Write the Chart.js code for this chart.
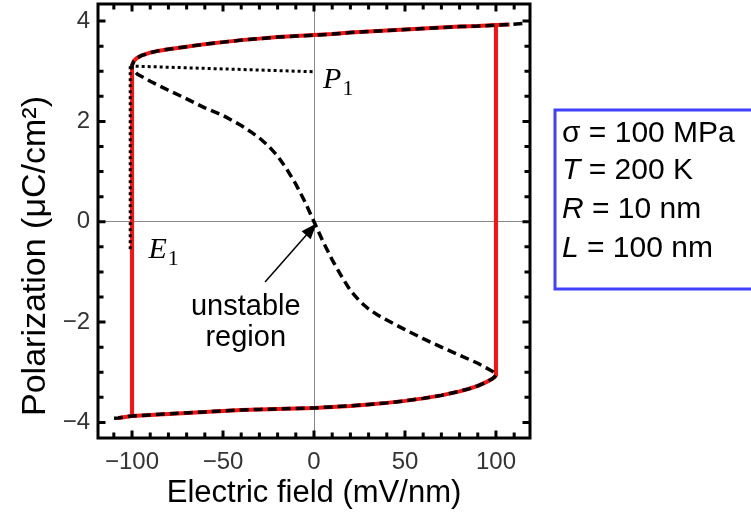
<!DOCTYPE html>
<html>
<head>
<meta charset="utf-8">
<script src="https://cdn.jsdelivr.net/npm/chart.js@4.4.0/dist/chart.umd.min.js"></script>
<style>
  html, body { margin: 0; padding: 0; background: #fff; overflow: hidden; }
  #wrap { width: 751px; height: 513px; }
</style>
</head>
<body>
<div id="wrap"><canvas id="loop" width="751" height="513"></canvas></div>
<script>
// P-E loop, field in mV/nm, polarization in uC/cm^2
var upperE = [-100, -99, -97.5, -95, -90, -85, -80, -70, -60, -50, -40, -30, -20, -10, 0, 10, 20, 30, 40, 50, 60, 70, 80, 90, 100, 107.5, 114.5];
var upperP = [3.12, 3.2, 3.26, 3.31, 3.37, 3.41, 3.44, 3.49, 3.54, 3.58, 3.62, 3.65, 3.68, 3.70, 3.72, 3.74, 3.77, 3.79, 3.81, 3.83, 3.85, 3.87, 3.89, 3.90, 3.92, 3.93, 3.95];

var lowerE = [-110.5, -107.5, -100, -90, -80, -70, -60, -50, -40, -30, -20, -10, 0, 10, 20, 30, 40, 50, 60, 70, 80, 85, 90, 95, 97.5, 99, 100];
var lowerP = [-3.92, -3.91, -3.87, -3.85, -3.83, -3.81, -3.79, -3.77, -3.75, -3.74, -3.73, -3.72, -3.71, -3.69, -3.67, -3.64, -3.61, -3.57, -3.52, -3.46, -3.38, -3.33, -3.27, -3.19, -3.14, -3.1, -3.06];

// middle (unstable) branch
var unstableE = [-100, -97, -90, -80, -70, -60, -50, -45, -40, -35, -30, -25, -20, -15, -10, -5, 0, 5, 10, 15, 20, 25, 30, 35, 40, 50, 60, 70, 80, 90, 97, 100];
var unstableP = [3.05, 2.94, 2.8, 2.62, 2.45, 2.27, 2.12, 2.02, 1.92, 1.8, 1.67, 1.51, 1.31, 1.05, 0.75, 0.4, 0, -0.4, -0.76, -1.08, -1.37, -1.58, -1.74, -1.86, -1.96, -2.15, -2.33, -2.5, -2.66, -2.82, -2.96, -3.02];

// dotted guides to P1 and E1
var p1E = [-98, 0], p1P = [3.1, 2.99];
var e1E = [-101, -101], e1P = [3.1, -0.55];

var xTicks = [-100, -50, 0, 50, 100];
var yTicks = [-4, -2, 0, 2, 4];

function pts(E, P) {
  return E.map(function (e, i) { return { x: e, y: P[i] }; });
}

var up = pts(upperE, upperP);
var low = pts(lowerE, lowerP);
var mid = pts(unstableE, unstableP);

// red loop: switching at -100 and +100
var redLeft = [{ x: lowerE[2], y: lowerP[2] }].concat(up.slice(0, up.length - 1));
var redRight = [{ x: upperE[24], y: upperP[24] }].concat(low.slice(1).reverse());
// black dashed S-curve through all three branches
var sCurve = up.slice().reverse().concat(mid, low.slice().reverse());

var RED = '#ff1010';
var SANS = '"Liberation Sans", Arial, sans-serif';
var SERIF = '"Liberation Serif", "Times New Roman", serif';

function minus(v) { return v < 0 ? '\u2212' + Math.abs(v) : String(v); }

var decor = {
  id: 'decor',
  afterDatasetsDraw: function (chart) {
    var ctx = chart.ctx, a = chart.chartArea;
    var xs = chart.scales.x, ys = chart.scales.y;
    ctx.save();

    // frame with inward ticks
    ctx.strokeStyle = '#000';
    ctx.lineWidth = 3;
    ctx.strokeRect(a.left, a.top, a.right - a.left, a.bottom - a.top);
    ctx.beginPath();
    for (var v = -110; v <= 110; v += 10) {
      var px = xs.getPixelForValue(v), len = v % 50 === 0 ? 7.5 : 5.5;
      ctx.moveTo(px, a.bottom); ctx.lineTo(px, a.bottom - len);
      ctx.moveTo(px, a.top); ctx.lineTo(px, a.top + len);
    }
    for (var w = -4; w <= 4; w += 0.5) {
      var py = ys.getPixelForValue(w), ln = w % 2 === 0 ? 7.5 : 5.5;
      ctx.moveTo(a.left, py); ctx.lineTo(a.left + ln, py);
      ctx.moveTo(a.right, py); ctx.lineTo(a.right - ln, py);
    }
    ctx.stroke();

    // arrow to the unstable point
    var tx = xs.getPixelForValue(-26.9), ty = ys.getPixelForValue(-1.2);
    var hx = xs.getPixelForValue(1.5), hy = ys.getPixelForValue(-0.03);
    var ang = Math.atan2(hy - ty, hx - tx);
    ctx.lineWidth = 1.5;
    ctx.beginPath();
    ctx.moveTo(tx, ty);
    ctx.lineTo(hx - 12 * Math.cos(ang), hy - 12 * Math.sin(ang));
    ctx.stroke();
    ctx.fillStyle = '#000';
    ctx.beginPath();
    ctx.moveTo(hx, hy);
    ctx.lineTo(hx - 16 * Math.cos(ang) + 6 * Math.sin(ang), hy - 16 * Math.sin(ang) - 6 * Math.cos(ang));
    ctx.lineTo(hx - 16 * Math.cos(ang) - 6 * Math.sin(ang), hy - 16 * Math.sin(ang) + 6 * Math.cos(ang));
    ctx.closePath();
    ctx.fill();

    // annotations
    ctx.fillStyle = '#000';
    ctx.textBaseline = 'alphabetic';
    ctx.textAlign = 'center';
    ctx.font = '29px ' + SANS;
    var ux = xs.getPixelForValue(-37.5);
    ctx.fillText('unstable', ux, ys.getPixelForValue(-1.86));
    ctx.fillText('region', ux, ys.getPixelForValue(-2.47));

    ctx.textAlign = 'left';
    function sym(letter, sub, x, y) {
      ctx.font = 'italic 30px ' + SERIF;
      ctx.fillText(letter, x, y);
      var wd = ctx.measureText(letter).width;
      ctx.font = '22px ' + SERIF;
      ctx.fillText(sub, x + wd + 1, y + 7);
    }
    sym('P', '1', xs.getPixelForValue(5), ys.getPixelForValue(2.66));
    sym('E', '1', xs.getPixelForValue(-91), ys.getPixelForValue(-0.72));

    // axis titles
    ctx.font = '31px ' + SANS;
    ctx.textAlign = 'center';
    ctx.fillText('Electric field (mV/nm)', (a.left + a.right) / 2, 502);
    ctx.save();
    ctx.translate(45, 256);
    ctx.rotate(-Math.PI / 2);
    ctx.font = '34px ' + SANS;
    ctx.fillText('Polarization (\u03bcC/cm\u00b2)', 0, 0);
    ctx.restore();

    // parameter box, open towards the right edge
    ctx.strokeStyle = '#4040ff';
    ctx.lineWidth = 3;
    ctx.beginPath();
    ctx.moveTo(chart.width + 10, 110);
    ctx.lineTo(555, 110);
    ctx.lineTo(555, 289);
    ctx.lineTo(chart.width + 10, 289);
    ctx.stroke();
    ctx.textAlign = 'left';
    var lines = [
      ['', '\u03c3 = 100 MPa', 142],
      ['T', ' = 200 K', 179],
      ['R', ' = 10 nm', 218],
      ['L', ' = 100 nm', 257]
    ];
    lines.forEach(function (l) {
      var x = 562;
      if (l[0]) {
        ctx.font = 'italic 30px ' + SANS;
        ctx.fillText(l[0], x, l[2]);
        x += ctx.measureText(l[0]).width;
      }
      ctx.font = '30px ' + SANS;
      ctx.fillText(l[1], x, l[2]);
    });
    ctx.restore();
  }
};

new Chart(document.getElementById('loop'), {
  type: 'scatter',
  data: {
    datasets: [
      { data: sCurve, showLine: true, borderColor: '#000', borderWidth: 3.5, borderDash: [9, 5], pointRadius: 0, order: 1 },
      { data: pts(p1E, p1P), showLine: true, borderColor: '#000', borderWidth: 3, borderDash: [3, 3], pointRadius: 0, order: 2 },
      { data: pts(e1E, e1P), showLine: true, borderColor: '#000', borderWidth: 3, borderDash: [3, 3], pointRadius: 0, order: 2 },
      { data: redLeft, showLine: true, borderColor: RED, borderWidth: 4, pointRadius: 0, order: 3 },
      { data: redRight, showLine: true, borderColor: RED, borderWidth: 4, pointRadius: 0, order: 3 }
    ]
  },
  options: {
    responsive: false,
    animation: false,
    devicePixelRatio: 1,
    layout: { padding: { left: 0, top: 4, right: 221, bottom: 0 } },
    plugins: { legend: { display: false }, tooltip: { enabled: false } },
    elements: { line: { tension: 0, borderJoinStyle: 'round' } },
    scales: {
      x: {
        type: 'linear', min: -118.7, max: 118.7,
        afterBuildTicks: function (s) { s.ticks = xTicks.map(function (v) { return { value: v }; }); },
        afterFit: function (s) { s.height = 75; s.paddingLeft = 0; s.paddingRight = 0; },
        ticks: { padding: 10, color: '#333', font: { family: SANS, size: 24 }, callback: minus, maxRotation: 0 },
        grid: { drawTicks: false, lineWidth: 1, color: function (c) { return c.tick && c.tick.value === 0 ? '#888' : 'rgba(0,0,0,0)'; } },
        border: { display: false }
      },
      y: {
        type: 'linear', min: -4.31, max: 4.34,
        afterBuildTicks: function (s) { s.ticks = yTicks.map(function (v) { return { value: v }; }); },
        afterFit: function (s) { s.width = 98; s.paddingTop = 0; s.paddingBottom = 0; },
        ticks: { padding: 8, color: '#333', font: { family: SANS, size: 24 }, callback: minus },
        grid: { drawTicks: false, lineWidth: 1, color: function (c) { return c.tick && c.tick.value === 0 ? '#888' : 'rgba(0,0,0,0)'; } },
        border: { display: false }
      }
    }
  },
  plugins: [decor]
});
</script>
</body>
</html>
